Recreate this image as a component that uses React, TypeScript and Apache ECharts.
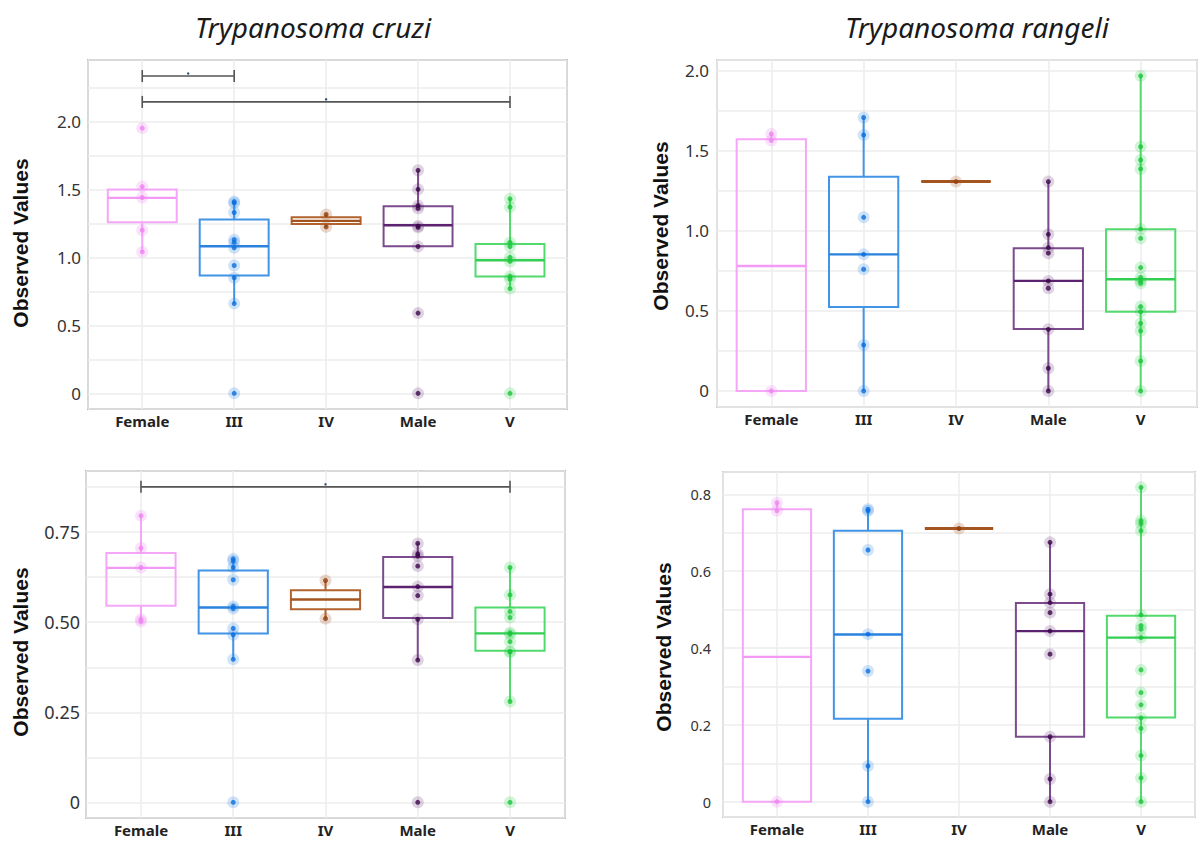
import React, { useEffect, useRef } from "react";
import * as echarts from "echarts";

const categories = ["Female", "III", "IV", "Male", "V"];

// Box statistics per category: [low whisker, Q1, median, Q3, high whisker]
const cruziTopBoxes = [
  [1.04, 1.258, 1.437, 1.498, 1.523],
  [0.661, 0.867, 1.082, 1.278, 1.413],
  [1.224, 1.246, 1.268, 1.295, 1.315],
  [1.082, 1.082, 1.236, 1.376, 1.638],
  [0.771, 0.859, 0.979, 1.099, 1.43],
];
const cruziTopPoints = [
  [1.95, 1.52, 1.44, 1.2, 1.04],
  [1.41, 1.4, 1.33, 1.13, 1.11, 1.07, 0.94, 0.85, 0.66, 0],
  [1.315, 1.224],
  [1.64, 1.5, 1.38, 1.36, 1.23, 1.22, 1.08, 0.59, 0],
  [1.43, 1.37, 1.11, 1.08, 1.0, 0.97, 0.86, 0.84, 0.77, 0],
];
// significance brackets: [from category, to category, height]
const cruziTopBrackets = [
  [0, 1, 2.333],
  [0, 4, 2.143],
];

const rangeliTopBoxes = [
  [0, 0, 0.78, 1.571, 1.605],
  [0, 0.524, 0.853, 1.338, 1.707],
  [1.307, 1.307, 1.307, 1.307, 1.307],
  [0, 0.387, 0.687, 0.891, 1.307],
  [0, 0.495, 0.697, 1.009, 1.967],
];
const rangeliTopPoints = [
  [1.605, 1.563, 0],
  [1.707, 1.598, 1.084, 0.853, 0.76, 0.287, 0],
  [1.307],
  [1.307, 0.978, 0.895, 0.86, 0.687, 0.641, 0.385, 0.142, 0],
  [1.967, 1.525, 1.442, 1.386, 1.011, 0.953, 0.77, 0.708, 0.687, 0.672, 0.527, 0.495, 0.422, 0.375, 0.187, 0],
];
const rangeliTopBrackets: number[][] = [];

const cruziBottomBoxes = [
  [0.502, 0.546, 0.651, 0.692, 0.796],
  [0.397, 0.469, 0.541, 0.644, 0.676],
  [0.51, 0.536, 0.563, 0.589, 0.616],
  [0.395, 0.512, 0.598, 0.681, 0.719],
  [0.28, 0.421, 0.469, 0.541, 0.652],
];
const cruziBottomPoints = [
  [0.796, 0.706, 0.652, 0.508, 0.502],
  [0.676, 0.67, 0.652, 0.618, 0.544, 0.538, 0.483, 0.465, 0.397, 0],
  [0.616, 0.51],
  [0.719, 0.69, 0.684, 0.656, 0.599, 0.574, 0.508, 0.395, 0],
  [0.652, 0.576, 0.53, 0.513, 0.471, 0.467, 0.446, 0.419, 0.417, 0.28, 0],
];
const cruziBottomBrackets = [[0, 4, 0.876]];

const rangeliBottomBoxes = [
  [0, 0, 0.377, 0.761, 0.778],
  [0, 0.216, 0.435, 0.705, 0.761],
  [0.711, 0.711, 0.711, 0.711, 0.711],
  [0, 0.169, 0.444, 0.517, 0.675],
  [0, 0.219, 0.427, 0.484, 0.818],
];
const rangeliBottomPoints = [
  [0.778, 0.757, 0],
  [0.761, 0.757, 0.655, 0.436, 0.34, 0.093, 0],
  [0.711],
  [0.675, 0.54, 0.518, 0.492, 0.444, 0.384, 0.169, 0.059, 0],
  [0.818, 0.731, 0.724, 0.705, 0.486, 0.458, 0.449, 0.427, 0.343, 0.284, 0.252, 0.218, 0.191, 0.12, 0.062, 0],
];
const rangeliBottomBrackets: number[][] = [];

const titles = ["Trypanosoma cruzi", "Trypanosoma rangeli"];
const yAxisTitle = "Observed Values";

// styles
const boxColors = ["#f5a6f7", "#4194e6", "#b2632d", "#7c4b8d", "#52da6d"];
const medianColors = ["#f29af5", "#2a82de", "#a4541f", "#5c2270", "#33cf52"];
const dotColors = ["#ec84f0", "#0a6ee0", "#913f0e", "#3a0848", "#1cc43c"];
const haloColors = [
  "rgba(240,140,243,0.32)",
  "rgba(45,135,230,0.28)",
  "rgba(170,90,40,0.3)",
  "rgba(95,35,115,0.25)",
  "rgba(45,210,75,0.28)",
];
const BOX_W = 0.75;

const panels = [
  {
    grid: { left: 88, top: 60, width: 479, height: 349 },
    x: [-0.59, 4.62], y: [-0.115, 2.451], step: 0.25, labelStep: 0.5, dec: 1,
    labelSize: 17, labelMargin: 7, border: "#808080", borderWidth: 1.5,
    boxes: cruziTopBoxes, points: cruziTopPoints, brackets: cruziTopBrackets,
    yName: [20, 243],
  },
  {
    grid: { left: 717, top: 60, width: 486, height: 347 },
    x: [-0.588, 4.61], y: [-0.1, 2.066], step: 0.25, labelStep: 0.5, dec: 1,
    labelSize: 17, labelMargin: 8, border: "#c4c4c4", borderWidth: 2,
    boxes: rangeliTopBoxes, points: rangeliTopPoints, brackets: rangeliTopBrackets,
    yName: [660, 226],
  },
  {
    grid: { left: 86, top: 471, width: 479, height: 347 },
    x: [-0.596, 4.596], y: [-0.0436, 0.92], step: 0.125, labelStep: 0.25, dec: 2,
    labelSize: 18, labelMargin: 6, border: "#808080", borderWidth: 1.5,
    boxes: cruziBottomBoxes, points: cruziBottomPoints, brackets: cruziBottomBrackets,
    yName: [20, 652],
  },
  {
    grid: { left: 723, top: 472, width: 472, height: 345 },
    x: [-0.593, 4.593], y: [-0.0398, 0.858], step: 0.1, labelStep: 0.2, dec: 1,
    labelSize: 14.5, labelMargin: 12, border: "#c4c4c4", borderWidth: 2,
    boxes: rangeliBottomBoxes, points: rangeliBottomPoints, brackets: rangeliBottomBrackets,
    yName: [663, 647],
  },
];

const fmt = (step: number, dec: number) => (v: number) => {
  const k = v / step;
  if (Math.abs(k - Math.round(k)) > 1e-6) return "";
  if (Math.abs(v) < 1e-9) return "0";
  return v.toFixed(dec);
};

const catFmt = (v: number) => {
  const r = Math.round(v);
  if (Math.abs(v - r) > 1e-6) return "";
  return categories[r] ?? "";
};

function boxRender(params: any, api: any) {
  const i = api.value(0);
  const low = api.value(1), q1 = api.value(2), med = api.value(3), q3 = api.value(4), high = api.value(5);
  const pl = api.coord([i - BOX_W / 2, med]);
  const pr = api.coord([i + BOX_W / 2, med]);
  const pc = api.coord([i, med]);
  const yLow = api.coord([i, low])[1];
  const yQ1 = api.coord([i, q1])[1];
  const yQ3 = api.coord([i, q3])[1];
  const yHigh = api.coord([i, high])[1];
  const c = boxColors[i];
  const children: any[] = [];
  if (yHigh < yQ3) {
    children.push({ type: "line", shape: { x1: pc[0], y1: yQ3, x2: pc[0], y2: yHigh }, style: { stroke: c, lineWidth: 2 } });
  }
  if (yLow > yQ1) {
    children.push({ type: "line", shape: { x1: pc[0], y1: yQ1, x2: pc[0], y2: yLow }, style: { stroke: c, lineWidth: 2 } });
  }
  children.push({
    type: "rect",
    shape: { x: pl[0], y: yQ3, width: pr[0] - pl[0], height: yQ1 - yQ3 },
    style: { fill: "rgba(255,255,255,0)", stroke: c, lineWidth: 2 },
  });
  children.push({
    type: "line",
    shape: { x1: pl[0], y1: pc[1], x2: pr[0], y2: pc[1] },
    style: { stroke: medianColors[i], lineWidth: yQ1 - yQ3 < 1 ? 3 : 2.4 },
  });
  return { type: "group", children };
}

function bracketRender(params: any, api: any) {
  const a = api.coord([api.value(0), api.value(2)]);
  const b = api.coord([api.value(1), api.value(2)]);
  const col = "#555555";
  return {
    type: "group",
    children: [
      { type: "line", shape: { x1: a[0], y1: a[1], x2: b[0], y2: b[1] }, style: { stroke: col, lineWidth: 1.6 } },
      { type: "line", shape: { x1: a[0], y1: a[1] - 6, x2: a[0], y2: a[1] + 6 }, style: { stroke: col, lineWidth: 1.6 } },
      { type: "line", shape: { x1: b[0], y1: b[1] - 6, x2: b[0], y2: b[1] + 6 }, style: { stroke: col, lineWidth: 1.6 } },
      { type: "circle", shape: { cx: (a[0] + b[0]) / 2, cy: a[1] - 2.5, r: 1.2 }, style: { fill: "#2b4a7a" } },
    ],
  };
}

export default function App() {
  const ref = useRef<HTMLDivElement>(null);

  useEffect(() => {
    if (!ref.current) return;
    const chart = echarts.init(ref.current, null, { renderer: "svg" });

    const grid: any[] = [];
    const xAxis: any[] = [];
    const yAxis: any[] = [];
    const series: any[] = [];

    panels.forEach((p, k) => {
      grid.push({ ...p.grid, show: true, borderColor: p.border, borderWidth: p.borderWidth, backgroundColor: "#ffffff" });
      xAxis.push({
        type: "value", gridIndex: k, min: p.x[0], max: p.x[1], minInterval: 1, maxInterval: 1,
        axisLine: { show: false }, axisTick: { show: false },
        splitLine: { show: true, lineStyle: { color: "#ececec", width: 1.5 } },
        axisLabel: {
          formatter: catFmt, margin: 4, color: "#222", fontSize: 15, fontWeight: "bold",
          fontFamily: "Noto Sans", showMinLabel: true, showMaxLabel: true,
        },
      });
      yAxis.push({
        type: "value", gridIndex: k, min: p.y[0], max: p.y[1], minInterval: p.step, maxInterval: p.step,
        axisLine: { show: false }, axisTick: { show: false },
        splitLine: { show: true, lineStyle: { color: "#ececec", width: 1.5 } },
        axisLabel: {
          formatter: fmt(p.labelStep, p.dec), margin: p.labelMargin, color: "#333",
          fontSize: p.labelSize, fontFamily: "Noto Sans",
        },
      });
      series.push({
        type: "custom", xAxisIndex: k, yAxisIndex: k, renderItem: boxRender, z: 2,
        encode: { x: 0, y: [1, 2, 3, 4, 5] },
        data: p.boxes.map((b, i) => [i, ...b]),
      });
      const pts: number[][] = [];
      p.points.forEach((arr, i) => arr.forEach((v) => pts.push([i, v])));
      series.push({
        type: "scatter", xAxisIndex: k, yAxisIndex: k, z: 3, symbolSize: 12,
        itemStyle: { color: (d: any) => haloColors[d.data[0]] },
        data: pts, silent: true,
      });
      series.push({
        type: "scatter", xAxisIndex: k, yAxisIndex: k, z: 4, symbolSize: 5,
        itemStyle: { color: (d: any) => dotColors[d.data[0]] },
        data: pts, silent: true,
      });
      if (p.brackets.length) {
        series.push({
          type: "custom", xAxisIndex: k, yAxisIndex: k, renderItem: bracketRender, z: 5,
          encode: { x: [0, 1], y: 2 },
          data: p.brackets,
        });
      }
    });

    const graphic: any[] = [
      {
        type: "text", x: 313, y: 27,
        style: { text: titles[0], fontSize: 28, fontStyle: "italic", fontFamily: "Noto Sans", fill: "#1a1a1a", align: "center", verticalAlign: "middle" },
      },
      {
        type: "text", x: 977, y: 27,
        style: { text: titles[1], fontSize: 28, fontStyle: "italic", fontFamily: "Noto Sans", fill: "#1a1a1a", align: "center", verticalAlign: "middle" },
      },
      ...panels.map((p) => ({
        type: "text", x: p.yName[0], y: p.yName[1], rotation: Math.PI / 2,
        style: { text: yAxisTitle, fontSize: 21, fontWeight: "bold", fontFamily: "Liberation Sans", fill: "#111", align: "center", verticalAlign: "middle" },
      })),
    ];

    chart.setOption({
      animation: false,
      backgroundColor: "#ffffff",
      grid, xAxis, yAxis, series, graphic,
    });
    return () => chart.dispose();
  }, []);

  return <div ref={ref} style={{ position: "fixed", left: 0, top: 0, width: 1200, height: 841 }} />;
}
